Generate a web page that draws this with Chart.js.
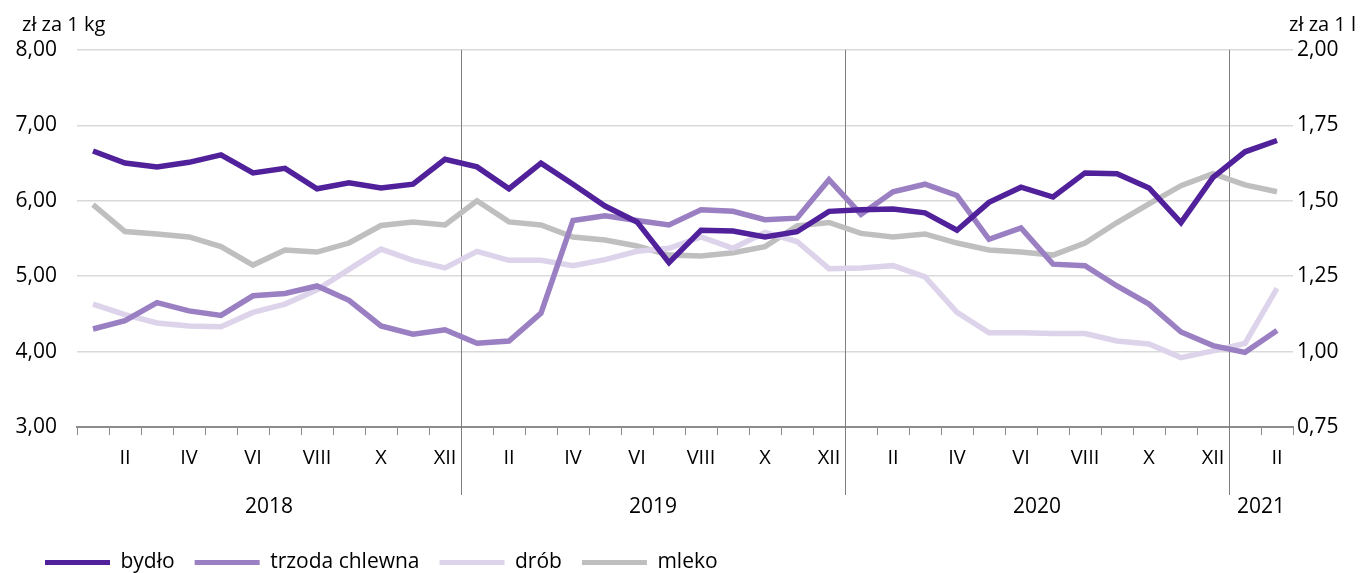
<!DOCTYPE html>
<html lang="pl">
<head>
<meta charset="utf-8">
<script src="https://cdn.jsdelivr.net/npm/chart.js@4/dist/chart.umd.min.js"></script>
<style>
    html, body { margin: 0; padding: 0; background: #fff; }
    #wrap { width: 1361px; height: 573px; position: relative; }
</style>
</head>
<body>
<div id="wrap"><canvas id="pricesChart"></canvas></div>
<script>
const months = ['I', 'II', 'III', 'IV', 'V', 'VI', 'VII', 'VIII', 'IX', 'X', 'XI', 'XII'];
const years = ['2018', '2019', '2020', '2021'];
const monthCounts = [12, 12, 12, 2];

const labels = [];
years.forEach((y, yi) => {
    for (let m = 0; m < monthCounts[yi]; m++) labels.push(months[m]);
});

// zł za 1 kg
const bydlo = [6.66, 6.50, 6.45, 6.51, 6.61, 6.37, 6.43, 6.16, 6.24, 6.17, 6.22, 6.55,
    6.45, 6.16, 6.50, 6.22, 5.93, 5.72, 5.18, 5.61, 5.60, 5.52, 5.59, 5.86,
    5.88, 5.89, 5.84, 5.61, 5.98, 6.18, 6.05, 6.37, 6.36, 6.17, 5.71, 6.31,
    6.65, 6.80];
const trzoda = [4.30, 4.41, 4.65, 4.54, 4.48, 4.74, 4.77, 4.87, 4.68, 4.34, 4.23, 4.29,
    4.11, 4.14, 4.51, 5.74, 5.80, 5.74, 5.68, 5.88, 5.86, 5.75, 5.77, 6.28,
    5.82, 6.12, 6.22, 6.07, 5.49, 5.64, 5.16, 5.14, 4.87, 4.63, 4.26, 4.08,
    3.99, 4.28];
const drob = [4.63, 4.49, 4.38, 4.34, 4.33, 4.52, 4.63, 4.82, 5.09, 5.36, 5.21, 5.11,
    5.33, 5.21, 5.21, 5.14, 5.22, 5.33, 5.37, 5.52, 5.37, 5.58, 5.46, 5.10,
    5.11, 5.14, 4.99, 4.52, 4.25, 4.25, 4.24, 4.24, 4.14, 4.10, 3.92, 4.01,
    4.11, 4.84];
// zł za 1 l
const mleko = [1.487, 1.398, 1.390, 1.380, 1.348, 1.287, 1.337, 1.330, 1.360, 1.418, 1.430, 1.420,
    1.500, 1.430, 1.420, 1.380, 1.370, 1.350, 1.320, 1.317, 1.328, 1.348, 1.417, 1.428,
    1.392, 1.380, 1.390, 1.360, 1.337, 1.330, 1.320, 1.360, 1.428, 1.490, 1.550, 1.590,
    1.553, 1.530];

const leftTicks = { min: 3, max: 8, step: 1 };
const rightTicks = { min: 0.75, max: 2, step: 0.25 };

const FONT = '"Open Sans", "Noto Sans", sans-serif';
const fmt = (v) => v.toFixed(2).replace('.', ',');

const series = [
    { label: 'bydło', data: bydlo, color: '#50219a', axis: 'y' },
    { label: 'trzoda chlewna', data: trzoda, color: '#9a7fc3', axis: 'y' },
    { label: 'drób', data: drob, color: '#ddd3eb', axis: 'y' },
    { label: 'mleko', data: mleko, color: '#bfbfbf', axis: 'y1' },
];

const yearDecor = {
    id: 'yearDecor',
    beforeDraw(chart) {
        // legend starts a bit right of the canvas edge
        if (chart.legend) chart.legend.left = 25;
    },
    beforeDatasetsDraw(chart) {
        const { ctx, chartArea, scales: { x } } = chart;
        ctx.save();
        ctx.strokeStyle = '#7f7f7f';
        ctx.lineWidth = 1;
        let start = 0;
        monthCounts.forEach((n, i) => {
            start += n;
            if (i === monthCounts.length - 1) return;
            const px = Math.round((x.getPixelForValue(start - 1) + x.getPixelForValue(start)) / 2) + 0.5;
            ctx.beginPath();
            ctx.moveTo(px, chartArea.top);
            ctx.lineTo(px, chartArea.bottom + 68);
            ctx.stroke();
        });
        ctx.restore();
    },
    afterDraw(chart) {
        const { ctx, chartArea, scales: { x } } = chart;
        ctx.save();
        ctx.fillStyle = '#000';
        ctx.font = '21px ' + FONT;
        ctx.textAlign = 'center';
        ctx.textBaseline = 'middle';
        let start = 0;
        years.forEach((y, i) => {
            const end = start + monthCounts[i] - 1;
            const cx = (x.getPixelForValue(start) + x.getPixelForValue(end)) / 2;
            ctx.fillText(y, cx, chartArea.bottom + 80);
            start = end + 1;
        });
        ctx.font = '20px ' + FONT;
        ctx.textAlign = 'left';
        ctx.fillText('zł za 1 kg', 22, 25);
        ctx.textAlign = 'right';
        ctx.fillText('zł za 1 l', 1356, 25);
        ctx.restore();
    },
};

const BOTTOM_PAD = -10;

new Chart(document.getElementById('pricesChart'), {
    type: 'line',
    data: {
        labels,
        datasets: series.map((s) => ({
            label: s.label,
            data: s.data,
            borderColor: s.color,
            backgroundColor: s.color,
            borderWidth: 5.5,
            pointRadius: 0,
            tension: 0,
            yAxisID: s.axis,
        })),
    },
    options: {
        responsive: true,
        maintainAspectRatio: false,
        animation: false,
        layout: { padding: { top: 50, left: 0, right: 0, bottom: BOTTOM_PAD } },
        plugins: {
            tooltip: { enabled: false },
            legend: {
                position: 'bottom',
                align: 'start',
                labels: {
                    boxWidth: 65,
                    boxHeight: 5,
                    padding: 20,
                    color: '#000',
                    font: { family: FONT, size: 21 },
                    useBorderRadius: true,
                    borderRadius: 2.5,
                    generateLabels: (chart) => chart.data.datasets.map((d, i) => ({
                        text: d.label,
                        fillStyle: d.borderColor,
                        strokeStyle: d.borderColor,
                        lineWidth: 0,
                        fontColor: '#000',
                        datasetIndex: i,
                        hidden: false,
                    })),
                },
            },
        },
        scales: {
            x: {
                offset: true,
                grid: { drawOnChartArea: false, offset: true, tickLength: 8, color: '#8c8c8c', lineWidth: 1 },
                border: { color: '#8c8c8c', width: 2 },
                ticks: {
                    autoSkip: false,
                    maxRotation: 0,
                    padding: 11,
                    color: '#000',
                    font: { family: FONT, size: 20 },
                    callback: (v, i) => (i % 2 === 1 ? labels[i] : ''),
                },
                afterFit: (scale) => {
                    const lh = scale.chart.legend ? scale.chart.legend.height : 40;
                    scale.height = 573 - BOTTOM_PAD - lh - 427;
                },
            },
            y: {
                position: 'left',
                min: leftTicks.min,
                max: leftTicks.max,
                ticks: {
                    stepSize: leftTicks.step,
                    padding: 20,
                    color: '#000',
                    font: { family: FONT, size: 21 },
                    callback: (v) => fmt(v),
                },
                grid: { color: '#d9d9d9', lineWidth: 1.5, drawTicks: false },
                border: { display: false },
                afterFit: (scale) => { scale.width = 77; },
            },
            y1: {
                position: 'right',
                min: rightTicks.min,
                max: rightTicks.max,
                ticks: {
                    stepSize: rightTicks.step,
                    padding: 4,
                    color: '#000',
                    font: { family: FONT, size: 21 },
                    callback: (v) => fmt(v),
                },
                grid: { drawOnChartArea: false, drawTicks: false },
                border: { display: false },
                afterFit: (scale) => { scale.width = 68; },
            },
        },
    },
    plugins: [yearDecor],
});
</script>
</body>
</html>
